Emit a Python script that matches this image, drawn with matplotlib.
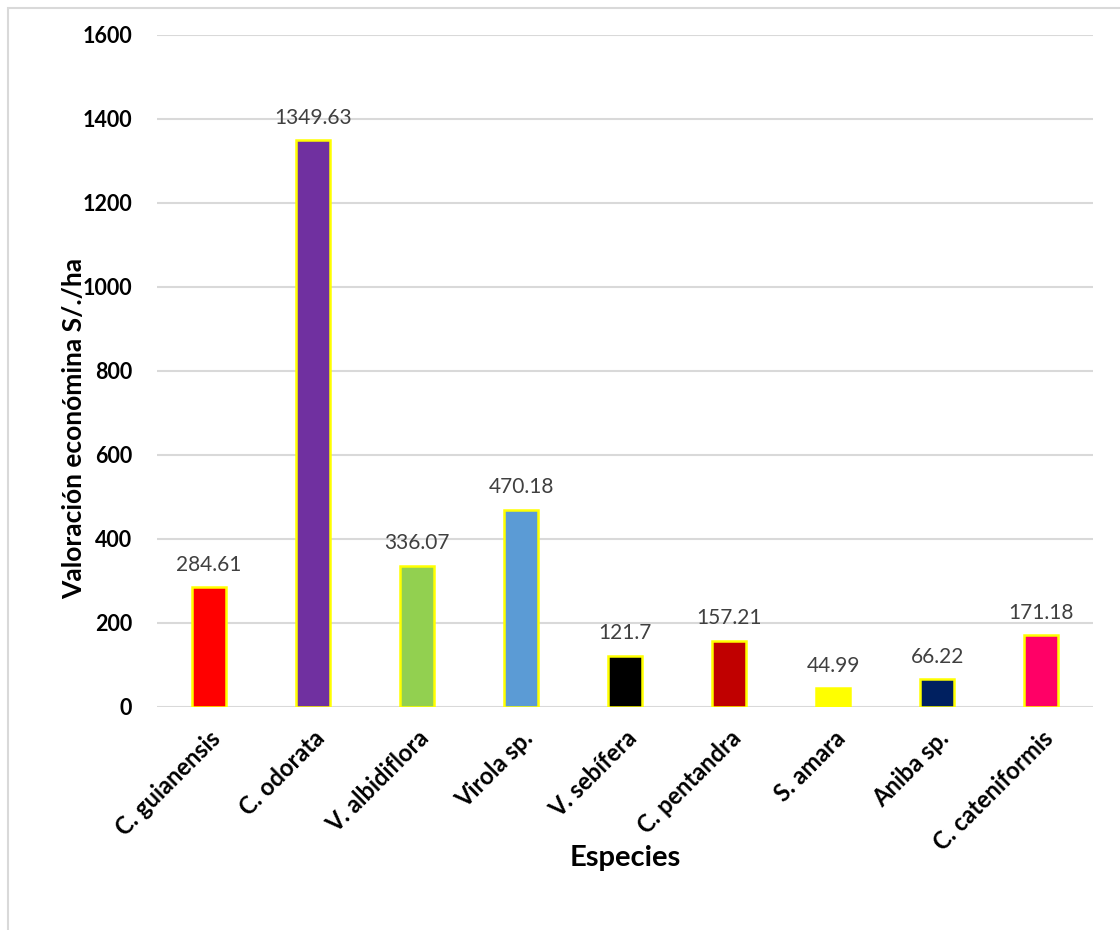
import matplotlib
matplotlib.use("Agg")
import matplotlib.pyplot as plt
from matplotlib.patches import Rectangle

# data
especies = ["C. guianensis", "C. odorata", "V. albidiflora", "Virola sp.", "V. sebífera",
            "C. pentandra", "S. amara", "Aniba sp.", "C. cateniformis"]
valores = [284.61, 1349.63, 336.07, 470.18, 121.7, 157.21, 44.99, 66.22, 171.18]
etiquetas = ["284.61", "1349.63", "336.07", "470.18", "121.7", "157.21", "44.99", "66.22", "171.18"]
colores = ["#FF0000", "#7030A0", "#92D050", "#5B9BD5", "#000000",
           "#C00000", "#FFFF00", "#002060", "#FF0066"]
yticks = [0, 200, 400, 600, 800, 1000, 1200, 1400, 1600]

plt.rcParams['font.family'] = ['Lato', 'DejaVu Sans']

fig = plt.figure(figsize=(11.2, 9.3), dpi=100)
# light gray frame around the chart area
fig.patches.append(Rectangle((8 / 1120, -0.01), 1.02, 1 - 8 / 930 + 0.01,
                             transform=fig.transFigure, fill=False,
                             edgecolor="#D9D9D9", linewidth=1.5))

ax = fig.add_axes([0.1402, 0.2398, 0.976 - 0.1402, 0.9624 - 0.2398])
x = list(range(len(especies)))
bars = ax.bar(x, valores, width=0.32, color=colores, edgecolor="#FFFF00", linewidth=1.8, zorder=3)

for xi, v, lab in zip(x, valores, etiquetas):
    ax.annotate(lab, (xi, v), xytext=(0, 9), textcoords="offset points",
                ha="center", va="bottom", fontsize=15, color="#404040")

ax.set_xlim(-0.5, len(especies) - 0.5)
ax.set_ylim(0, 1600)
ax.set_yticks(yticks)
ax.set_yticklabels([str(t) for t in yticks], fontsize=15.5, fontweight="bold")
ax.set_xticks(x)
ax.set_xticklabels(especies, rotation=45, ha="right", rotation_mode="anchor",
                   fontsize=17, fontweight="bold")
ax.tick_params(axis="both", length=0)
ax.tick_params(axis="y", pad=18)
ax.tick_params(axis="x", pad=14)
ax.yaxis.grid(True, color="#D9D9D9", linewidth=1.5, zorder=0)
ax.set_axisbelow(True)
for s in ax.spines.values():
    s.set_visible(False)

ax.set_ylabel("Valoración económina S/./ha", fontsize=19, fontweight="bold")
ax.yaxis.set_label_coords(-0.0759, 0.414)
ax.set_xlabel("Especies", fontsize=21, fontweight="bold")
ax.xaxis.set_label_coords(0.5, -0.205)

fig.savefig("out.png", dpi=100)
